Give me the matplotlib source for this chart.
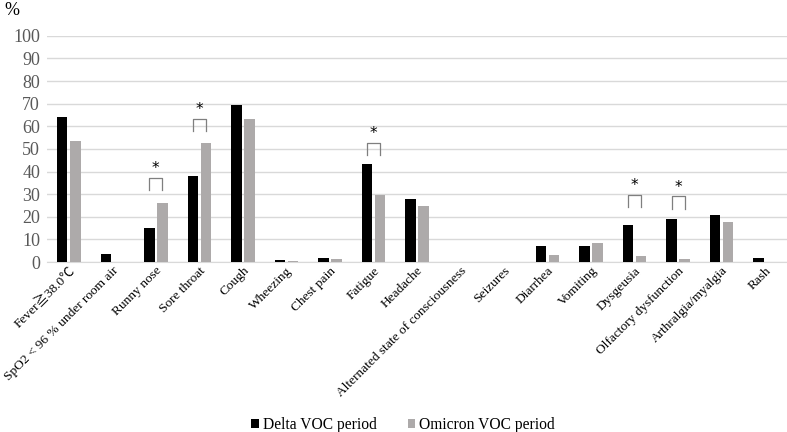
import numpy as np
import matplotlib.pyplot as plt

plt.rcParams['font.family'] = ['Liberation Serif', 'Noto Sans CJK JP', 'DejaVu Sans']

symptoms = ["Fever≧38.0℃", "SpO2 < 96 % under room air", "Runny nose", "Sore throat",
            "Cough", "Wheezing", "Chest pain", "Fatigue", "Headache",
            "Alternated state of consciousness", "Seizures", "Diarrhea", "Vomiting",
            "Dysgeusia", "Olfactory dysfunction", "Arthralgia/myalgia", "Rash"]
delta = [63.9, 3.7, 15.2, 37.9, 69.3, 0.8, 1.9, 43.2, 27.9, 0, 0, 7.2, 7.2, 16.2, 18.9, 20.7, 1.8]
omicron = [53.3, 0, 26.1, 52.8, 63.3, 0.4, 1.4, 29.6, 24.6, 0, 0, 3.0, 8.6, 2.5, 1.5, 17.7, 0]

# significant differences: (category index, bracket top)
sig_idx = [2, 3, 7, 13, 14]
sig_top = [37.3, 63.4, 52.7, 29.8, 29.0]

fig = plt.figure(figsize=(7.87, 4.32), dpi=100)
ax = fig.add_axes([0.0597, 0.3935, 0.9403, 0.5235])

x = np.arange(len(symptoms))
w = 0.24
off = 0.15
ax.bar(x - off, delta, w, color='black', label='Delta VOC period', zorder=3)
ax.bar(x + off, omicron, w, color='#ADAAAA', label='Omicron VOC period', zorder=3)

# brackets and stars
for i, top in zip(sig_idx, sig_top):
    ax.plot([i - off, i - off, i + off, i + off], [top - 5.4, top, top, top - 5.4],
            color='#7F7F7F', lw=0.9, zorder=4)
    ax.text(i, top + 0.8, '*', ha='center', va='bottom', fontsize=11,
            family='DejaVu Sans')

ax.set_xlim(-0.5, len(symptoms) - 0.5)
ax.set_ylim(0, 100)
ax.set_yticks(np.arange(0, 101, 10))
ax.yaxis.grid(True, color='#D9D9D9', lw=1, zorder=0)
ax.set_axisbelow(True)
for s in ['top', 'right', 'left']:
    ax.spines[s].set_visible(False)
ax.spines['bottom'].set_color('#D9D9D9')
ax.tick_params(axis='both', length=0, labelsize=13, colors='#595959')
ax.tick_params(axis='y', pad=5)
ax.tick_params(axis='x', pad=2)
ax.set_xticks(x)
ax.set_xticklabels(symptoms, rotation=45, ha='right', rotation_mode='anchor', fontsize=9.6)
for lab in ax.get_xticklabels():
    lab.set_color('black')

fig.text(0.006, 0.995, '%', fontsize=13, va='top', ha='left')

fig.legend(loc='lower center', bbox_to_anchor=(0.512, -0.035), ncol=2, frameon=False,
           fontsize=11.2, handlelength=0.5, handleheight=0.5, handletextpad=0.25,
           columnspacing=2.0)

fig.savefig('out.png', dpi=100)
